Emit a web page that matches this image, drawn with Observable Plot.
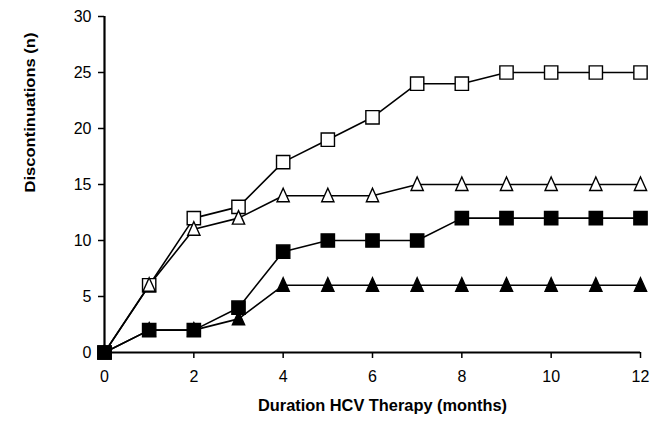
<!DOCTYPE html>
<html>
<head>
<meta charset="utf-8">
<script src="https://cdn.jsdelivr.net/npm/d3@7"></script>
<script src="https://cdn.jsdelivr.net/npm/@observablehq/plot@0.6"></script>
<style>
  html, body { margin: 0; padding: 0; background: #fff; }
  #chart svg { display: block; }
</style>
</head>
<body>
<div id="chart"></div>
<script>
const months = [0, 1, 2, 3, 4, 5, 6, 7, 8, 9, 10, 11, 12];
const openSquares     = [0, 6, 12, 13, 17, 19, 21, 24, 24, 25, 25, 25, 25];
const openTriangles   = [0, 6, 11, 12, 14, 14, 14, 15, 15, 15, 15, 15, 15];
const filledSquares   = [0, 2, 2, 4, 9, 10, 10, 10, 12, 12, 12, 12, 12];
const filledTriangles = [0, 2, 2, 3, 6, 6, 6, 6, 6, 6, 6, 6, 6];
const xTicks = [0, 2, 4, 6, 8, 10, 12];
const yTicks = [0, 5, 10, 15, 20, 25, 30];
const xTitle = "Duration HCV Therapy (months)";
const yTitle = "Discontinuations (n)";

// narrow upright triangle symbol (slightly taller than wide, like the figure)
const narrowTriangle = {
  draw(context, size) {
    const r = Math.sqrt(size / Math.PI);
    context.moveTo(0, -1.25 * r);
    context.lineTo(1.02 * r, 1.0 * r);
    context.lineTo(-1.02 * r, 1.0 * r);
    context.closePath();
  }
};

// drawing order: open squares, open triangles, filled triangles, filled squares
const series = [
  {values: openSquares, symbol: d3.symbolSquare, fill: "white", r: 7.5},
  {values: openTriangles, symbol: narrowTriangle, fill: "white", r: 6},
  {values: filledTriangles, symbol: narrowTriangle, fill: "black", r: 6},
  {values: filledSquares, symbol: d3.symbolSquare, fill: "black", r: 7.5}
];
const rows = s => months.map((m, i) => ({month: m, value: s.values[i]}));

const marks = [
  Plot.ruleX([0], {y1: 0, y2: 30, stroke: "black", strokeWidth: 2.2}),
  Plot.ruleY([0], {x1: 0, x2: 12, stroke: "black", strokeWidth: 2.2}),
  Plot.axisX({ticks: xTicks, tickSize: 6, tickPadding: 12, fontSize: 16, strokeWidth: 1.5, label: null}),
  Plot.axisY({ticks: yTicks, tickSize: 6, tickPadding: 7, fontSize: 16, strokeWidth: 1.5, label: null}),
  Plot.text([xTitle], {frameAnchor: "bottom", dy: 58, dx: 10, fontSize: 16, fontWeight: "bold", fill: "black"}),
  Plot.text([yTitle], {frameAnchor: "left", dx: -74.5, dy: 8, rotate: -90, fontSize: 15.5, fontWeight: "bold", fill: "black"})
];
for (const s of series) {
  marks.push(Plot.line(rows(s), {x: "month", y: "value", stroke: "black", strokeWidth: 1.6}));
}
for (const s of series) {
  marks.push(Plot.dot(rows(s), {x: "month", y: "value", symbol: () => s.symbol, fill: s.fill, stroke: "black", strokeWidth: 1.4, r: s.r}));
}

const chart = Plot.plot({
  width: 658,
  height: 421,
  marginLeft: 104,
  marginRight: 18,
  marginTop: 16,
  marginBottom: 69,
  style: {fontFamily: "Liberation Sans, Arial, sans-serif", fontSize: "16px", color: "black", background: "white"},
  x: {domain: [0, 12]},
  y: {domain: [0, 30]},
  marks
});
d3.select(chart).selectAll("text")
  .filter(function() { return this.textContent === yTitle; })
  .attr("textLength", 160).attr("lengthAdjust", "spacingAndGlyphs");
d3.select(chart).selectAll("text")
  .filter(function() { return this.textContent === xTitle; })
  .attr("textLength", 249).attr("lengthAdjust", "spacingAndGlyphs");
document.getElementById("chart").appendChild(chart);
</script>
</body>
</html>
